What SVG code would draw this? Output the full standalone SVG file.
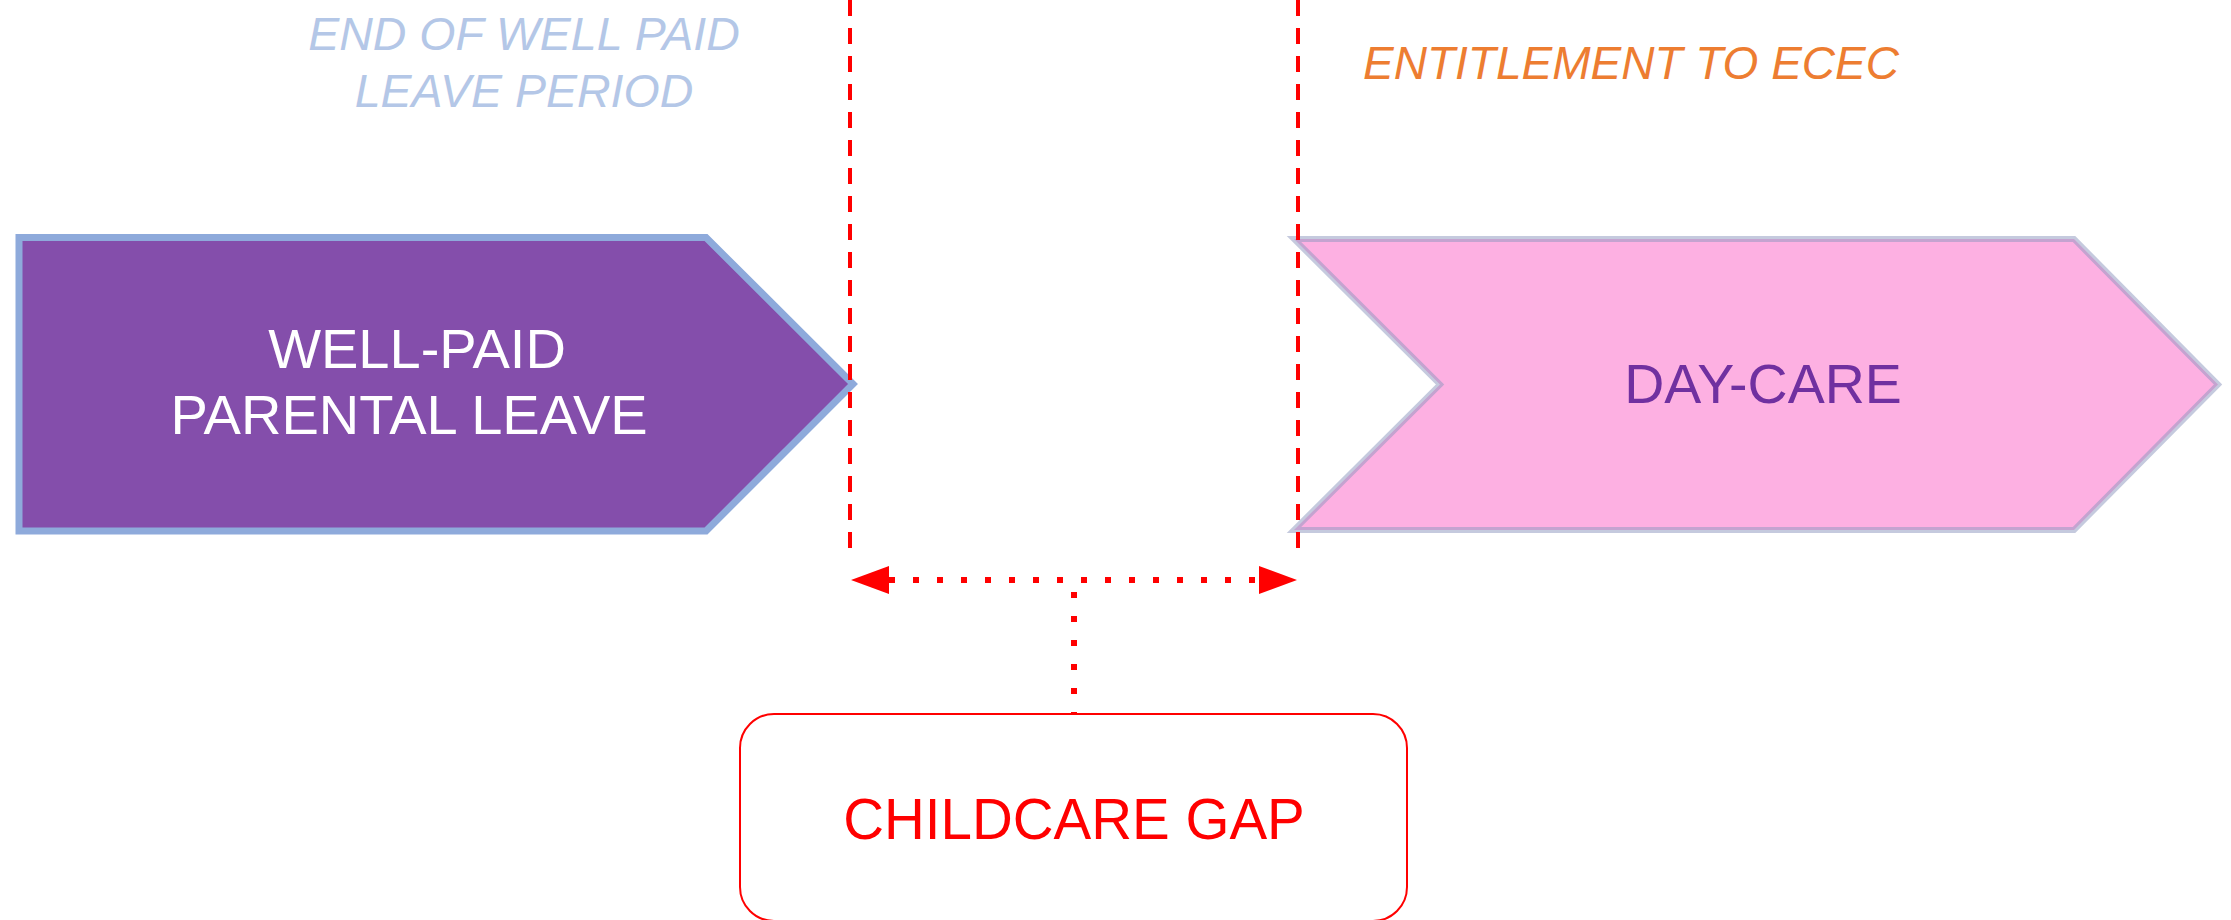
<svg xmlns="http://www.w3.org/2000/svg" width="2231" height="920" viewBox="0 0 2231 920">
<defs>
<style>
.lbl{font-family:"Liberation Sans",Arial,sans-serif;text-anchor:middle}
.top{font-style:italic;font-size:46.5px}
.vdash{stroke:#FF0000;stroke-width:4;stroke-dasharray:16 12;fill:none}
.dot{stroke:#FF0000;stroke-width:6;stroke-dasharray:6 18;fill:none}
</style>
<marker id="ah" viewBox="0 0 38 28" refX="0" refY="14" markerWidth="38" markerHeight="28" markerUnits="userSpaceOnUse" orient="auto-start-reverse">
<path d="M0,0 L38,14 L0,28 Z" fill="#FF0000"/>
</marker>
</defs>
<rect width="2231" height="920" fill="#FFFFFF"/>

<g id="label-end-of-leave">
<text class="lbl top" x="524" y="50" fill="#B4C7E7">END OF WELL PAID</text>
<text class="lbl top" x="524" y="107" fill="#B4C7E7">LEAVE PERIOD</text>
</g>
<g id="label-entitlement">
<text class="lbl top" x="1631" y="79" fill="#ED7D31" style="font-size:46px">ENTITLEMENT TO ECEC</text>
</g>

<g id="node-parental-leave">
<path d="M19,237.5 L706,237.5 L853,384 L706,531 L19,531 Z" fill="#844EAB" stroke="#8EAADB" stroke-width="7" stroke-linejoin="miter"/>
<text class="lbl" x="417" y="368" fill="#FFFFFF" font-size="56">WELL-PAID</text>
<text class="lbl" x="409" y="434" fill="#FFFFFF" font-size="56">PARENTAL LEAVE</text>
</g>

<g id="node-day-care">
<path d="M1294,239 L2074,239 L2218,384.5 L2074,530 L1294,530 L1440,384.5 Z" fill="#FDB0E2" stroke="#8C96BE" stroke-opacity="0.5" stroke-width="6"/>
<text class="lbl" x="1763" y="403" fill="#7030A0" font-size="55.5">DAY-CARE</text>
</g>

<g id="node-childcare-gap">
<rect x="740" y="714" width="667" height="207" rx="34" ry="34" fill="#FFFFFF" stroke="#FF0000" stroke-width="2"/>
<text class="lbl" x="1074" y="839" fill="#FF0000" font-size="56.5">CHILDCARE GAP</text>
</g>

<g id="connectors">
<line class="vdash" x1="850" y1="0" x2="850" y2="549"/>
<line class="vdash" x1="1298" y1="0" x2="1298" y2="549"/>
<line class="dot" x1="889" y1="580" x2="1259" y2="580" marker-start="url(#ah)" marker-end="url(#ah)"/>
<line class="dot" x1="1074" y1="592" x2="1074" y2="713"/>
</g>
</svg>
